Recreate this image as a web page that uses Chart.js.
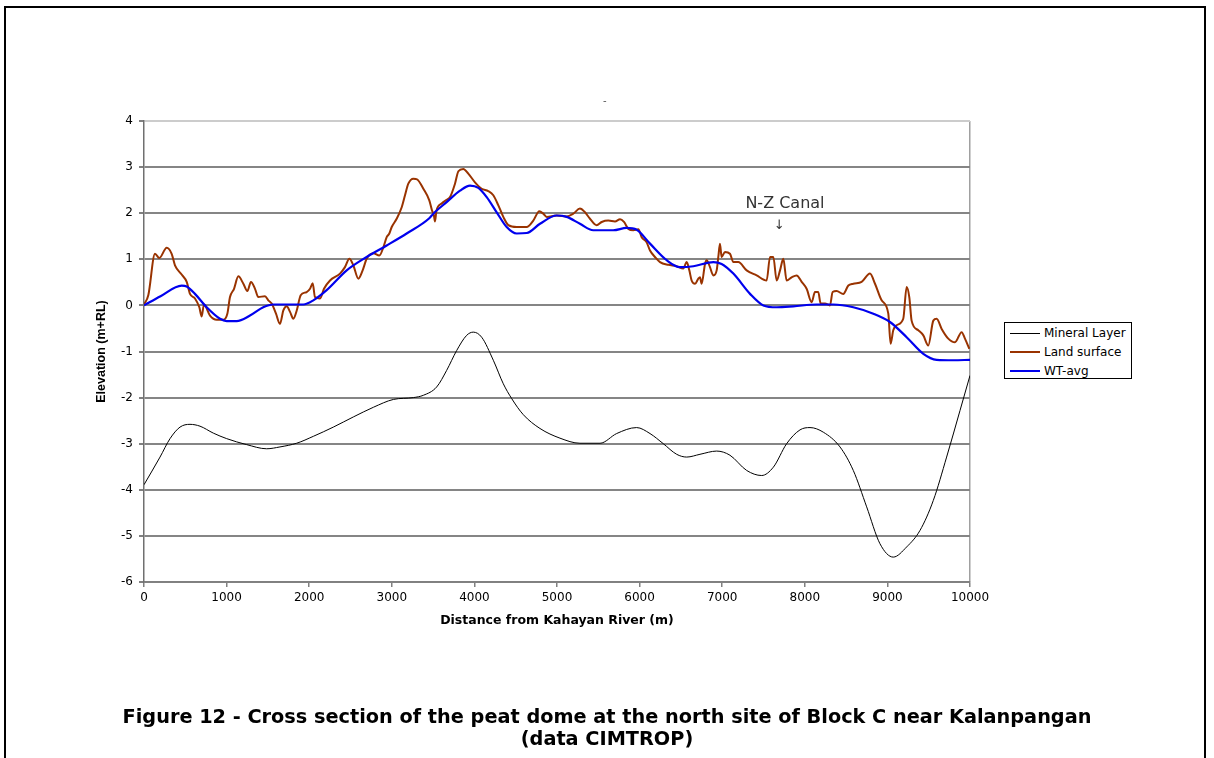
<!DOCTYPE html>
<html>
<head>
<meta charset="utf-8">
<script src="https://cdn.jsdelivr.net/npm/chart.js@4.4.1/dist/chart.umd.min.js"></script>
<style>
  html, body { margin: 0; padding: 0; background: #fff; overflow: hidden; }
  #frame { position: absolute; left: 4px; top: 6px; width: 1202px; height: 800px; border: 2px solid #000; box-sizing: border-box; }
  #wrap { position: absolute; left: 0; top: 0; width: 1214px; height: 758px; }
  #legend { position: absolute; left: 1004px; top: 322px; width: 128px; height: 57px; border: 1px solid #000; box-sizing: border-box; background: #fff; overflow: hidden; font-family: "DejaVu Sans", sans-serif; font-size: 12px; color: #000; }
  .item { position: absolute; left: 0; height: 16px; line-height: 16px; white-space: nowrap; }
  .item .ln { position: absolute; left: 5px; width: 30px; }
  .item .tx { position: absolute; left: 39px; top: 0; }
  #dash { position: absolute; left: 603px; top: 95px; font-family: "DejaVu Sans", sans-serif; font-size: 10px; color: #555; }
  #caption { position: absolute; left: 0; width: 1214px; top: 706px; text-align: center; font-family: "DejaVu Sans", sans-serif; font-weight: bold; font-size: 19.3px; line-height: 22px; color: #000; }
</style>
</head>
<body>
<div id="frame"></div>
<div id="wrap"><canvas id="c"></canvas></div>
<div id="dash">-</div>
<div id="legend">
  <div class="item" style="top:2px"><div class="ln" style="top:8px;border-top:1px solid #000"></div><span class="tx">Mineral Layer</span></div>
  <div class="item" style="top:21px"><div class="ln" style="top:7px;border-top:2px solid #993300"></div><span class="tx">Land surface</span></div>
  <div class="item" style="top:40px"><div class="ln" style="top:7px;border-top:2px solid #0000ee"></div><span class="tx">WT-avg</span></div>
</div>
<div id="caption">Figure 12 - Cross section of the peat dome at the north site of Block C near Kalanpangan<br>(data CIMTROP)</div>
<script>
// ---- data ----
const mineralX = [0,194,315,436,557,678,839,1001,1243,1485,1646,1848,2050,2292,2534,2777,3019,3261,3382,3543,3664,3785,3906,3987,4088,4229,4350,4451,4592,4794,5036,5278,5521,5722,5964,6126,6287,6449,6570,6731,6933,7094,7296,7478,7619,7780,7942,8063,8224,8426,8587,8749,8910,9071,9233,9395,9556,9717,9879,10000];
const mineralY = [-3.89,-3.29,-2.89,-2.64,-2.58,-2.62,-2.77,-2.89,-3.02,-3.11,-3.07,-2.99,-2.84,-2.64,-2.42,-2.21,-2.04,-2.00,-1.95,-1.77,-1.41,-0.98,-0.65,-0.58,-0.69,-1.19,-1.70,-2.02,-2.37,-2.67,-2.88,-2.99,-2.99,-2.78,-2.65,-2.78,-3.00,-3.23,-3.29,-3.23,-3.16,-3.25,-3.58,-3.69,-3.51,-3.00,-2.70,-2.65,-2.75,-3.07,-3.58,-4.37,-5.17,-5.46,-5.24,-4.88,-4.23,-3.29,-2.28,-1.52];

const landX = [0,52,133,185,275,335,375,456,517,557,617,670,698,726,799,880,960,1009,1041,1090,1142,1203,1251,1295,1344,1384,1465,1505,1546,1598,1646,1687,1727,1768,1808,1849,1897,1969,2010,2042,2070,2131,2179,2252,2373,2433,2486,2534,2595,2647,2696,2777,2849,2898,2938,2970,2999,3059,3120,3160,3200,3261,3309,3382,3454,3487,3510,3523,3540,3604,3664,3705,3765,3806,3866,3926,4007,4088,4168,4229,4290,4350,4411,4512,4633,4713,4786,4834,4875,4996,5117,5197,5278,5339,5399,5480,5541,5621,5702,5763,5811,5864,5924,5985,6025,6085,6126,6186,6247,6348,6449,6529,6570,6602,6630,6671,6711,6731,6751,6792,6812,6852,6893,6933,6953,6973,6993,7034,7094,7135,7195,7296,7417,7538,7579,7619,7659,7700,7740,7780,7841,7901,7962,8022,8083,8123,8163,8192,8245,8305,8337,8385,8466,8527,8587,8688,8789,8850,8930,9011,9039,9071,9112,9192,9233,9265,9293,9374,9435,9495,9556,9596,9657,9737,9818,9899,9939,9992];
const landY = [0.02,0.22,1.12,1.03,1.25,1.12,0.87,0.67,0.51,0.25,0.15,-0.04,-0.24,0.02,-0.22,-0.31,-0.31,-0.18,0.18,0.36,0.63,0.47,0.31,0.51,0.36,0.18,0.20,0.11,0.04,-0.18,-0.40,-0.11,-0.02,-0.14,-0.29,-0.11,0.22,0.29,0.36,0.48,0.18,0.15,0.36,0.54,0.69,0.83,1.01,0.87,0.58,0.76,1.01,1.13,1.08,1.26,1.48,1.56,1.70,1.88,2.13,2.39,2.64,2.75,2.73,2.53,2.28,2.06,1.95,1.82,2.05,2.21,2.29,2.35,2.64,2.91,2.96,2.86,2.67,2.53,2.48,2.39,2.17,1.92,1.74,1.70,1.70,1.84,2.04,1.99,1.92,1.95,1.93,1.99,2.10,2.02,1.88,1.74,1.81,1.84,1.82,1.87,1.81,1.66,1.63,1.65,1.48,1.37,1.19,1.05,0.94,0.88,0.85,0.80,0.94,0.76,0.54,0.47,0.58,0.61,0.47,0.90,0.98,0.83,0.65,0.76,1.05,1.34,1.05,1.16,1.12,0.94,0.94,0.76,0.65,0.54,1.05,1.05,0.54,0.76,1.01,0.54,0.61,0.65,0.51,0.36,0.07,0.29,0.29,0.04,0.04,0.00,0.29,0.31,0.25,0.43,0.47,0.51,0.69,0.47,0.11,-0.18,-0.83,-0.54,-0.43,-0.29,0.40,0.18,-0.33,-0.54,-0.65,-0.87,-0.33,-0.29,-0.51,-0.72,-0.80,-0.58,-0.72,-0.94];

const wtX = [0,200,456,517,617,759,920,1001,1122,1283,1444,1566,1929,2050,2211,2454,2696,2938,3180,3454,3503,3664,3826,3947,4048,4149,4270,4391,4512,4633,4794,4996,5117,5278,5439,5681,5843,5964,6126,6328,6489,6651,6893,6993,7135,7337,7498,7659,7861,8143,8345,8587,8830,9031,9233,9435,9596,9799,10000];
const wtY = [0,0.20,0.43,0.41,0.25,-0.04,-0.29,-0.34,-0.34,-0.22,-0.04,0.02,0.02,0.11,0.33,0.76,1.05,1.30,1.56,1.89,1.99,2.24,2.49,2.60,2.55,2.35,2.02,1.70,1.56,1.57,1.77,1.95,1.92,1.77,1.63,1.63,1.68,1.64,1.34,0.98,0.83,0.85,0.94,0.90,0.69,0.25,0.00,-0.04,-0.02,0.02,0.02,-0.04,-0.18,-0.36,-0.69,-1.05,-1.18,-1.19,-1.18];

const xTicks = [0,1000,2000,3000,4000,5000,6000,7000,8000,9000,10000];
const yTicks = [-6,-5,-4,-3,-2,-1,0,1,2,3,4];
const seriesNames = ['Mineral Layer', 'Land surface', 'WT-avg'];
const xTitle = 'Distance from Kahayan River (m)';
const yTitle = 'Elevation (m+RL)';
const noteText = 'N-Z Canal';
const noteArrow = '\u2193';
const noteX = 7760, noteY = 2.21, arrowX = 7690, arrowY = 1.73;

const pts = (xs, ys) => xs.map((x, i) => ({x: x, y: ys[i]}));

const notePlugin = {
  id: 'note',
  afterDatasetsDraw(chart) {
    const {ctx, scales: {x, y}} = chart;
    ctx.save();
    ctx.fillStyle = '#333';
    ctx.textAlign = 'center';
    ctx.textBaseline = 'middle';
    ctx.font = '16px "DejaVu Sans"';
    ctx.fillText(noteText, x.getPixelForValue(noteX), y.getPixelForValue(noteY));
    ctx.font = '13px "DejaVu Sans"';
    ctx.fillText(noteArrow, x.getPixelForValue(arrowX), y.getPixelForValue(arrowY));
    ctx.restore();
  }
};

new Chart(document.getElementById('c'), {
  type: 'scatter',
  data: {
    datasets: [
      { label: seriesNames[0], data: pts(mineralX, mineralY), showLine: true, borderColor: '#000', borderWidth: 1, pointRadius: 0, cubicInterpolationMode: 'monotone', order: 3 },
      { label: seriesNames[1], data: pts(landX, landY), showLine: true, borderColor: '#993300', borderWidth: 2, pointRadius: 0, cubicInterpolationMode: 'monotone', order: 2 },
      { label: seriesNames[2], data: pts(wtX, wtY), showLine: true, borderColor: '#0000ee', borderWidth: 2.2, pointRadius: 0, cubicInterpolationMode: 'monotone', order: 1 }
    ]
  },
  options: {
    responsive: true,
    maintainAspectRatio: false,
    animation: false,
    layout: { padding: { left: 90, right: 244, top: 121, bottom: 126 } },
    plugins: { legend: { display: false }, tooltip: { enabled: false }, title: { display: false } },
    scales: {
      x: {
        type: 'linear', min: 0, max: 10000,
        afterBuildTicks: (s) => { s.ticks = xTicks.map(v => ({value: v})); },
        afterFit: (s) => { s.height = 50; },
        ticks: { color: '#000', font: { family: 'DejaVu Sans', size: 12 }, padding: 4, maxRotation: 0, autoSkip: false, callback: (v) => String(v) },
        grid: {
          drawOnChartArea: true, drawTicks: true, tickLength: 5, lineWidth: 1.5,
          color: (c) => (c.tick && c.tick.value === 10000) ? '#a0a0a0' : 'rgba(0,0,0,0)',
          tickColor: '#808080'
        },
        border: { display: true, color: '#808080', width: 1.5 },
        title: { display: true, text: xTitle, color: '#000', font: { family: 'DejaVu Sans', size: 12.5, weight: 'bold' } }
      },
      y: {
        type: 'linear', min: -6, max: 4,
        afterBuildTicks: (s) => { s.ticks = yTicks.map(v => ({value: v})); },
        afterFit: (s) => { s.width = 54; },
        ticks: { color: '#000', font: { family: 'DejaVu Sans', size: 12 }, padding: 6, callback: (v) => String(v) },
        grid: {
          drawTicks: true, tickLength: 5, lineWidth: 2,
          color: (c) => (c.tick && c.tick.value === 4) ? '#cccccc' : '#858585',
          tickColor: '#808080'
        },
        border: { display: true, color: '#707070', width: 1.5 },
        title: { display: true, text: yTitle, color: '#000', font: { family: 'Liberation Sans', size: 12.5, weight: 'bold' } }
      }
    }
  },
  plugins: [notePlugin]
});
</script>
</body>
</html>
